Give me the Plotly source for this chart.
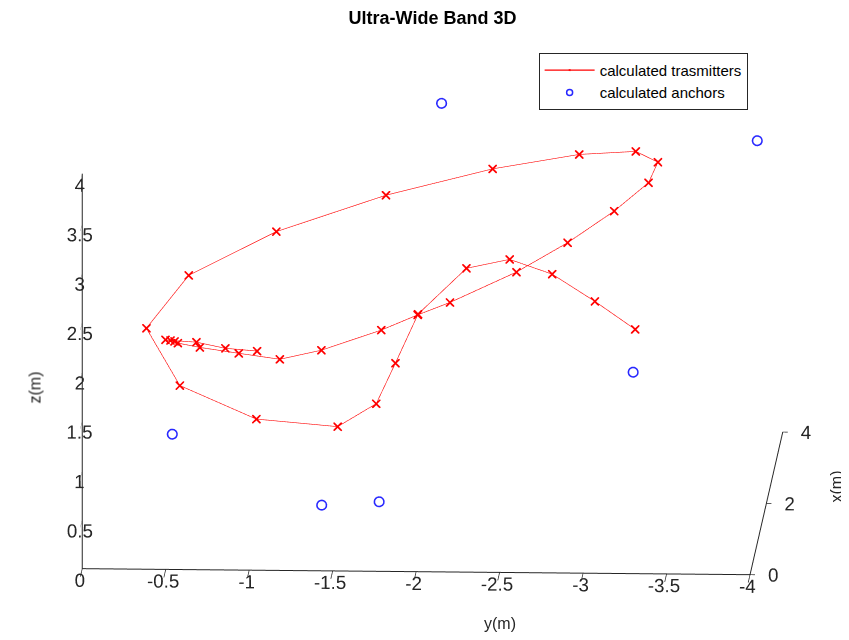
import plotly.graph_objects as go

# Transmitter path (x, y, z in metres)
tx_x = [1.6, 1.6, 1.5, 1.5, 1.5, 1.4, 1.4, 1.4, 1.5, 1.6, 1.8, 2.0, 2.1, 2.2, 2.4, 2.6, 2.8, 3.0, 3.1,
        3.2, 3.2, 3.1, 2.9, 2.6, 2.2, 1.8, 1.4, 1.1, 1.0, 1.0, 1.2, 1.5, 1.8, 2.0, 2.1, 2.2, 2.3]
tx_y = [-0.969, -0.779, -0.610, -0.455, -0.425, -0.484, -0.504, -0.636, -0.864, -1.105, -1.344, -1.693,
        -1.906, -2.095, -2.483, -2.780, -3.049, -3.245, -3.296, -3.159, -2.820, -2.306, -1.677, -1.035,
        -0.530, -0.296, -0.516, -0.989, -1.481, -1.712, -1.817, -1.938, -2.213, -2.462, -2.712, -2.963, -3.199]
tx_z = [1.641, 1.666, 1.762, 1.777, 1.783, 1.804, 1.787, 1.745, 1.653, 1.560, 1.583, 1.720,
        1.841, 1.934, 2.175, 2.405, 2.657, 2.875, 3.048, 3.119, 3.083, 2.965, 2.761, 2.491,
        2.185, 1.790, 1.357, 1.133, 1.100, 1.336, 1.676, 2.066, 2.426, 2.448, 2.266, 1.958, 1.642]

# Anchors
an_x = [3.5, 1.5, 3.0, 2.5, 0.5, 0.5]
an_y = [-1.979, -3.968, -3.151, -0.415, -1.408, -1.752]
an_z = [3.481, 3.855, 0.956, 0.467, 0.486, 0.525]

y_ticks = [0, -0.5, -1, -1.5, -2, -2.5, -3, -3.5, -4]
y_tick_text = ["0", "-0.5", "-1", "-1.5", "-2", "-2.5", "-3", "-3.5", "-4"]

FONT = "Liberation Sans, Arial, sans-serif"
AX = "#262626"
D = 1.61

fig = go.Figure()
fig.add_trace(go.Scatter3d(
    x=tx_x, y=tx_y, z=tx_z, mode="lines+markers", name="calculated trasmitters",
    line=dict(color="rgb(255,0,0)", width=1.2),
    marker=dict(symbol="x", size=2, color="rgb(255,0,0)"),
))
fig.add_trace(go.Scatter3d(
    x=an_x, y=an_y, z=an_z, mode="markers", name="calculated anchors",
    marker=dict(symbol="circle-open", size=6, color="rgb(40,40,255)",
                line=dict(width=1.5, color="rgb(40,40,255)")),
))

def axis(rng, tl, **kw):
    d = dict(range=rng, showgrid=False, showbackground=False,
             showline=True, linecolor=AX, linewidth=2, ticks="outside", tickcolor=AX,
             ticklen=tl, tickwidth=1.5, zeroline=False, showspikes=False,
             title=dict(text=""), tickangle=0,
             tickfont=dict(family=FONT, size=15, color=AX), autorange=False)
    d.update(kw)
    return d

fig.update_layout(
    width=849, height=640,
    margin=dict(l=0, r=0, t=0, b=0),
    paper_bgcolor="white",
    title=dict(text="<b>Ultra-Wide Band 3D</b>", x=0.5, xanchor="center", y=0.985, yanchor="middle",
               font=dict(family=FONT, size=18, color="black")),
    scene=dict(
        domain=dict(x=[0.0, 1.0], y=[0.0, 1.0]),
        xaxis=axis([0, 4], 40, tickmode="linear", tick0=0, dtick=2),
        yaxis=axis([-4, 0], 5, tickmode="array", tickvals=y_ticks, ticktext=y_tick_text),
        zaxis=axis([0, 4], 1, tickmode="linear", tick0=0, dtick=0.5),
        aspectmode="manual",
        aspectratio=dict(x=2.253, y=2.089, z=1.259),
        camera=dict(projection=dict(type="orthographic"),
                    eye=dict(x=-0.979 * D, y=-0.0445 * D, z=0.198 * D - 0.080),
                    up=dict(x=0, y=0, z=1), center=dict(x=0, y=0, z=-0.080)),
        bgcolor="white",
    ),
    annotations=[
        dict(x=16 / 849, y=1 - 380 / 640, xref="paper", yref="paper", text="z(m)", textangle=-90,
             showarrow=False, font=dict(family=FONT, size=16, color=AX)),
        dict(x=492 / 849, y=1 - 626 / 640, xref="paper", yref="paper", text="y(m)",
             showarrow=False, font=dict(family=FONT, size=16, color=AX)),
        dict(x=838 / 849, y=1 - 497 / 640, xref="paper", yref="paper", text="x(m)", textangle=-90,
             showarrow=False, font=dict(family=FONT, size=16, color=AX)),
    ],
    legend=dict(x=0.625, y=0.930, xanchor="left", yanchor="top", bgcolor="white", itemwidth=50,
                bordercolor=AX, borderwidth=1, font=dict(family=FONT, size=15, color="black")),
    showlegend=True,
)

fig.write_html("out.html")
